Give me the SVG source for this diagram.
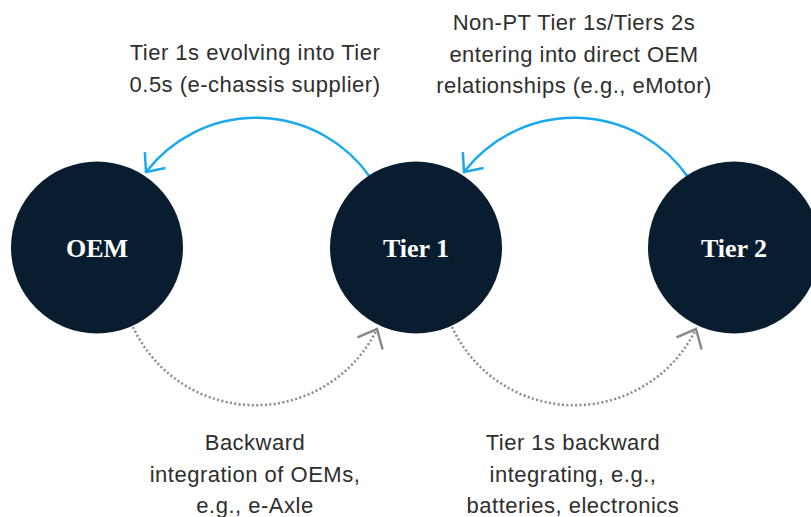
<svg xmlns="http://www.w3.org/2000/svg" width="811" height="517" viewBox="0 0 811 517">
  <style>
    .node { fill: #081d2f; }
    .ntext { font-family: "Liberation Serif", "Times New Roman", serif; font-weight: bold; font-size: 26px; fill: #ffffff; text-anchor: middle; }
    .label { font-family: "Liberation Sans", Arial, sans-serif; font-size: 22px; letter-spacing: 0.5px; fill: #2e2e2e; text-anchor: middle; }
    .blue { fill: none; stroke: #1aa9ee; stroke-width: 2.5; }
    .dots { fill: none; stroke: #8a8a8a; stroke-width: 2.5; stroke-dasharray: 2 2.4; }
  </style>
  <defs>
    <marker id="arrBlue" markerUnits="userSpaceOnUse" markerWidth="40" markerHeight="40" refX="0" refY="0" viewBox="-20 -20 40 40" orient="auto" overflow="visible">
      <path d="M -15 -13 L 0 0 L -15 13" fill="none" stroke="#1aa9ee" stroke-width="2.5"/>
    </marker>
    <marker id="arrGray" markerUnits="userSpaceOnUse" markerWidth="40" markerHeight="40" refX="0" refY="0" viewBox="-20 -20 40 40" orient="auto" overflow="visible">
      <path d="M -16 -14 L 0 0 L -16 14" fill="none" stroke="#8a8a8a" stroke-width="2.5"/>
    </marker>
  </defs>

  <g id="connectors">
    <path class="blue" d="M 370 177 A 139 139 0 0 0 146 172" marker-end="url(#arrBlue)"/>
    <path class="blue" d="M 688 177 A 139 139 0 0 0 464 172" marker-end="url(#arrBlue)"/>
    <path class="dots" d="M 133 327 A 135 135 0 0 0 377 329" marker-end="url(#arrGray)"/>
    <path class="dots" d="M 452 327 A 135 135 0 0 0 696 329" marker-end="url(#arrGray)"/>
  </g>

  <g id="node-oem">
    <circle class="node" cx="97" cy="247.5" r="86"/>
    <text class="ntext" x="97" y="257">OEM</text>
  </g>
  <g id="node-tier1">
    <circle class="node" cx="416" cy="247.5" r="86"/>
    <text class="ntext" x="416" y="257">Tier 1</text>
  </g>
  <g id="node-tier2">
    <circle class="node" cx="734" cy="247.5" r="86"/>
    <text class="ntext" x="734" y="257">Tier 2</text>
  </g>

  <g id="labels">
    <text class="label" x="255" y="60">Tier 1s evolving into Tier</text>
    <text class="label" x="255" y="92">0.5s (e-chassis supplier)</text>
    <text class="label" x="574" y="30">Non-PT Tier 1s/Tiers 2s</text>
    <text class="label" x="574" y="62">entering into direct OEM</text>
    <text class="label" x="574" y="93">relationships (e.g., eMotor)</text>
    <text class="label" x="255" y="450">Backward</text>
    <text class="label" x="255" y="482">integration of OEMs,</text>
    <text class="label" x="255" y="513">e.g., e-Axle</text>
    <text class="label" x="573" y="450">Tier 1s backward</text>
    <text class="label" x="573" y="482">integrating, e.g.,</text>
    <text class="label" x="573" y="513">batteries, electronics</text>
  </g>
</svg>
